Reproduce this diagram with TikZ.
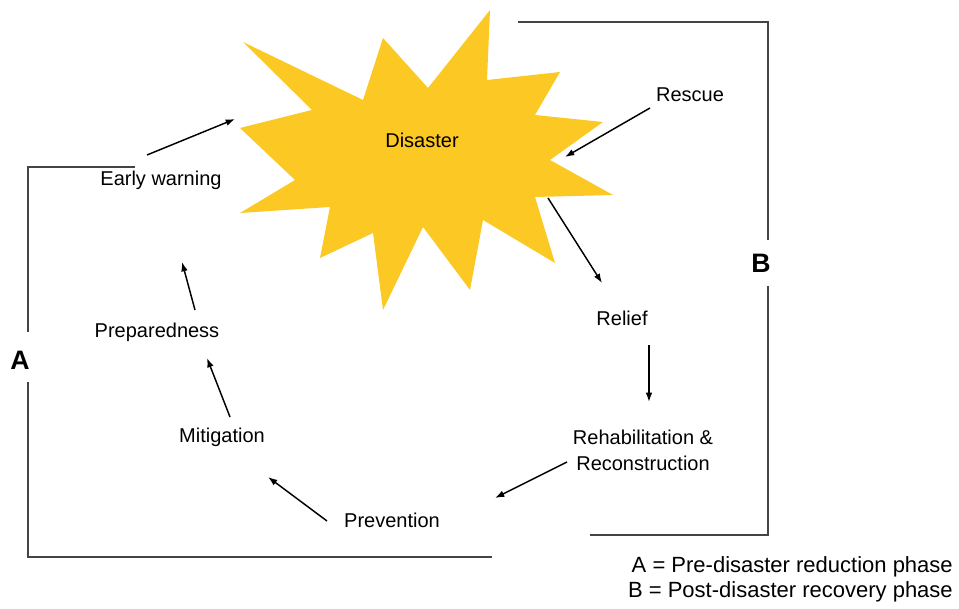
\documentclass[tikz,border=0pt]{standalone}
\usepackage{fontspec}
\setmainfont{Liberation Sans}
\usepackage{tikz}
\usetikzlibrary{arrows.meta,positioning,calc}
\definecolor{DSyellow}{RGB}{251,200,36}
\definecolor{DSframe}{RGB}{68,68,68}

\begin{document}
\begin{tikzpicture}[
      x=0.75pt,y=-0.75pt,
      lbl/.style={inner sep=0pt,align=center,font=\fontsize{15}{19.5}\selectfont},
      phase/.style={inner sep=0pt,font=\fontsize{20}{24}\selectfont\bfseries},
      link/.style={line width=1.1pt,-{Latex[length=7pt,width=5pt]}},
      frame/.style={line width=1.5pt,draw=DSframe}
    ]
    \useasboundingbox (0,0) rectangle (959,609);
    % the burst
    \fill[DSyellow] (243,42) -- (363,100) -- (383,38) -- (428,88) -- (490,10) -- (487,80)
      -- (560,72) -- (535,115) -- (603,122) -- (550,160) -- (613,195) -- (535,197)
      -- (555,263) -- (483,220) -- (470,290) -- (423,227) -- (383,310) -- (373,233)
      -- (320,258) -- (330,207) -- (240,213) -- (295,180) -- (240,128) -- (312,110) -- cycle;
    \node[lbl] (dis) at (422,140) {Disaster};
    \node[lbl] (rescue) at (690,95) {Rescue};
    \node[lbl] (relief) at (622,318) {Relief};
    \node[lbl] (rehab) at (643,450) {Rehabilitation \&\\Reconstruction};
    \node[lbl] (prev) at (392,520) {Prevention};
    \node[lbl] (mit) at (222,437) {Mitigation};
    \node[lbl] (prep) at (157,332) {Preparedness};
    \node[lbl] (ew) at (161,180) {Early warning};
    \node[phase] (phA) at (20,360) {A};
    \node[phase] (phB) at (761,263) {B};
    \node[inner sep=0pt,align=right,anchor=east,font=\fontsize{16.5}{18.5}\selectfont] (key) at (953,579)
      {A = Pre-disaster reduction phase\\B = Post-disaster recovery phase};
    % phase brackets
    \draw[frame] (135,167) -- (28,167) -- (28,332);
    \draw[frame] (28,382) -- (28,557) -- (492,557);
    \draw[frame] (518,22) -- (768,22) -- (768,240);
    \draw[frame] (768,286) -- (768,535) -- (590,535);
    % the cycle
    \draw[link] ([shift={(-14,-25)}]ew.center) -- ([shift={(-187,-21)}]dis.center);
    \draw[link] ([shift={(-40,13)}]rescue.center) -- ([shift={(143,17)}]dis.center);
    \draw[link] ([shift={(126,58)}]dis.center) -- ([shift={(-20,-35)}]relief.center);
    \draw[link] ([shift={(27,27)}]relief.center) -- ([shift={(6,-48)}]rehab.center);
    \draw[link] ([shift={(-76,12)}]rehab.center) -- ([shift={(103,-22)}]prev.center);
    \draw[link] ([shift={(-65,1)}]prev.center) -- ([shift={(46,40)}]mit.center);
    \draw[link] ([shift={(8,-20)}]mit.center) -- ([shift={(50,26)}]prep.center);
    \draw[link] ([shift={(38,-22)}]prep.center) -- ([shift={(21,82)}]ew.center);
  \end{tikzpicture}
\end{document}
